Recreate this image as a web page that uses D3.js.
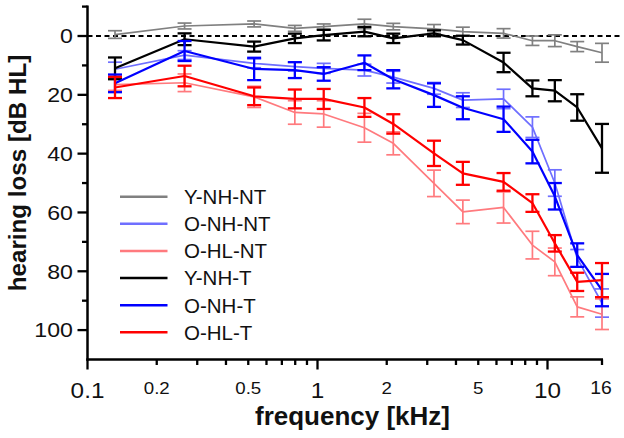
<!DOCTYPE html>
<html>
<head>
<meta charset="utf-8">
<script src="https://cdn.jsdelivr.net/npm/d3@7"></script>
<style>
  html, body { margin: 0; padding: 0; background: #fff; }
  svg { display: block; font-family: "Liberation Sans", Arial, sans-serif; }
</style>
</head>
<body>
<svg id="chart" width="624" height="438"></svg>
<script>
// ---- data ----
const frequencies = [0.125, 0.25, 0.5, 0.75, 1, 1.5, 2, 3, 4, 6, 8, 10, 12.5, 16];
const seriesNames = ["Y-NH-NT", "O-NH-NT", "O-HL-NT", "Y-NH-T", "O-NH-T", "O-HL-T"];
const seriesColors = ["#808080", "#6f6fff", "#ff7a7e", "#000000", "#0000ff", "#ff0000"];

const yNHNT      = [-0.5, -3.4, -4.1, -2.6, -3.2, -4.1, -3.2, -2.4, -1.5, -0.9, 1.6, 1.6, 3.6, 5.7];
const yNHNTerr   = [1.3, 1.0, 1.0, 1.0, 0.9, 1.6, 1.1, 1.5, 1.5, 1.6, 1.6, 2.0, 1.7, 3.2];
const oNHNT      = [11.3, 6.5, 9.3, 10.4, 11.0, 11.6, 14.0, 17.8, 21.8, 21.4, 31.0, 50.0, 75.6, 90.8];
const oNHNTerr   = [2.4, 1.5, 1.5, 1.5, 1.7, 2.0, 2.0, 2.0, 2.5, 3.3, 3.5, 4.5, 3.0, 4.8];
const oHLNT      = [16.5, 15.9, 20.7, 26.0, 26.5, 31.2, 36.5, 50.1, 59.8, 58.3, 71.1, 76.8, 92.1, 94.6];
const oHLNTerr   = [2.0, 3.0, 3.6, 4.0, 4.5, 4.9, 3.9, 4.5, 4.0, 5.3, 4.7, 4.7, 3.4, 5.2];
const yNHT       = [11.0, 1.1, 3.6, 0.8, -0.3, -1.5, 0.8, -0.9, 1.4, 9.0, 17.8, 18.6, 24.3, 38.2];
const yNHTerr    = [3.7, 2.0, 1.7, 1.6, 1.8, 1.6, 1.6, 1.0, 1.5, 3.3, 2.7, 3.6, 4.5, 8.3];
const oNHT       = [16.1, 5.1, 11.2, 11.6, 12.9, 9.1, 14.7, 20.1, 24.4, 28.3, 39.3, 54.5, 74.5, 86.4];
const oNHTerr    = [3.0, 3.4, 3.8, 2.7, 2.3, 2.5, 3.1, 4.0, 3.9, 4.3, 4.0, 4.5, 4.0, 5.5];
const oHLT       = [17.5, 13.6, 20.5, 21.4, 21.4, 24.3, 29.9, 39.9, 46.7, 49.6, 56.8, 70.5, 83.6, 83.0];
const oHLTerr    = [3.6, 3.5, 3.0, 3.2, 3.4, 3.2, 3.3, 4.3, 3.9, 3.0, 3.0, 2.8, 3.1, 5.8];

const seriesValues = [yNHNT, oNHNT, oHLNT, yNHT, oNHT, oHLT];
const seriesErrors = [yNHNTerr, oNHNTerr, oHLNTerr, yNHTerr, oNHTerr, oHLTerr];

const yMajorTicks = [0, 20, 40, 60, 80, 100];
const yMinorTicks = [-10, 10, 30, 50, 70, 90];
const xBigTicks = [0.1, 1, 10];
const xSmallLabelTicks = [0.2, 0.5, 2, 5];
const xMinorTicks = [0.3, 0.4, 0.6, 0.7, 0.8, 0.9, 3, 4, 6, 7, 8, 9];
const xEndTick = 16;
const xLabel = "frequency [kHz]";
const yLabel = "hearing loss [dB HL]";

// ---- layout ----
const svg = d3.select("#chart");
const axisX0 = 87.5, axisBottom = 359.5, axisTop = 6.6;
const y = d3.scaleLinear().domain([-10, 110]).range([axisTop, axisBottom]);
// tick scale and data scale (the figure's data points sit slightly right of the printed ticks)
const xAxisScale = d3.scaleLog().domain([0.1, 10]).range([axisX0, 547.5]);
const x = d3.scaleLog().domain([0.125, 16]).range([115, 602]);
const axisX1 = x(xEndTick);

const axisColor = "#000";

function stretchedText(px, py, txt, size, sx, anchor, dy) {
  const g = svg.append("g").attr("transform", `translate(${px},${py}) scale(${sx},1)`);
  const t = g.append("text").attr("x", 0).attr("y", 0)
    .attr("text-anchor", anchor).attr("font-size", size).attr("fill", "#111").text(txt);
  if (dy) t.attr("dy", dy);
  return t;
}

// dashed zero line
svg.append("line")
  .attr("x1", axisX0).attr("x2", 622)
  .attr("y1", y(0)).attr("y2", y(0))
  .attr("stroke", "#000").attr("stroke-width", 1.8)
  .attr("stroke-dasharray", "5,3.5");

// series
const lineGen = d3.line().x(d => x(d[0])).y(d => y(d[1]));
seriesNames.forEach((name, si) => {
  const thick = si >= 3;
  const color = seriesColors[si];
  const pts = frequencies.map((f, i) => [f, seriesValues[si][i], seriesErrors[si][i]]);
  const g = svg.append("g");
  g.append("path")
    .attr("d", lineGen(pts))
    .attr("fill", "none")
    .attr("stroke", color)
    .attr("stroke-width", thick ? 2.2 : 1.7)
    .attr("stroke-linejoin", "round");
  const capHalf = 7;
  const eb = g.selectAll("g.eb").data(pts).enter().append("g")
    .attr("stroke", color).attr("stroke-width", thick ? 2.3 : 1.7);
  eb.append("line")
    .attr("x1", d => x(d[0])).attr("x2", d => x(d[0]))
    .attr("y1", d => y(d[1] - d[2])).attr("y2", d => y(d[1] + d[2]));
  eb.append("line")
    .attr("x1", d => x(d[0]) - capHalf).attr("x2", d => x(d[0]) + capHalf)
    .attr("y1", d => y(d[1] - d[2])).attr("y2", d => y(d[1] - d[2]));
  eb.append("line")
    .attr("x1", d => x(d[0]) - capHalf).attr("x2", d => x(d[0]) + capHalf)
    .attr("y1", d => y(d[1] + d[2])).attr("y2", d => y(d[1] + d[2]));
});

// axes lines
svg.append("line").attr("x1", axisX0).attr("x2", axisX0)
  .attr("y1", axisTop - 1).attr("y2", axisBottom + 1)
  .attr("stroke", axisColor).attr("stroke-width", 2.5);
svg.append("line").attr("x1", axisX0 - 1.2).attr("x2", axisX1 + 1)
  .attr("y1", axisBottom).attr("y2", axisBottom)
  .attr("stroke", axisColor).attr("stroke-width", 2.5);

// y ticks
yMajorTicks.forEach(v => {
  svg.append("line").attr("x1", axisX0 - 10).attr("x2", axisX0)
    .attr("y1", y(v)).attr("y2", y(v)).attr("stroke", axisColor).attr("stroke-width", 2.3);
  stretchedText(73, y(v), v, 20.5, 1.13, "end", "0.36em");
});
yMinorTicks.forEach(v => {
  svg.append("line").attr("x1", axisX0 - 5.5).attr("x2", axisX0)
    .attr("y1", y(v)).attr("y2", y(v)).attr("stroke", axisColor).attr("stroke-width", 2.3);
});

// x ticks
xBigTicks.forEach(v => {
  const px = xAxisScale(v);
  svg.append("line").attr("x1", px).attr("x2", px)
    .attr("y1", axisBottom).attr("y2", axisBottom + 10).attr("stroke", axisColor).attr("stroke-width", 2.3);
  stretchedText(px, 398, v, 22.5, 1.08, "middle");
});
xSmallLabelTicks.forEach(v => {
  const px = xAxisScale(v);
  svg.append("line").attr("x1", px).attr("x2", px)
    .attr("y1", axisBottom).attr("y2", axisBottom + 5.5).attr("stroke", axisColor).attr("stroke-width", 2.3);
  stretchedText(px, 393.8, v, 17, 1.1, "middle");
});
xMinorTicks.forEach(v => {
  const px = xAxisScale(v);
  svg.append("line").attr("x1", px).attr("x2", px)
    .attr("y1", axisBottom).attr("y2", axisBottom + 5.5).attr("stroke", axisColor).attr("stroke-width", 2.3);
});
svg.append("line").attr("x1", axisX1).attr("x2", axisX1)
  .attr("y1", axisBottom).attr("y2", axisBottom + 5.5).attr("stroke", axisColor).attr("stroke-width", 2.3);
stretchedText(axisX1 - 1, 393.5, xEndTick, 19, 1.02, "middle");

// axis titles
svg.append("text").attr("x", 352.5).attr("y", 425).attr("text-anchor", "middle")
  .attr("font-size", 26).attr("font-weight", "bold").attr("fill", "#111").text(xLabel);
svg.append("text")
  .attr("transform", "translate(25.5,173) rotate(-90)")
  .attr("text-anchor", "middle")
  .attr("font-size", 24.2).attr("font-weight", "bold").attr("fill", "#111").text(yLabel);

// legend
const legendY = d3.scaleLinear().domain([0, 5]).range([196.7, 332.3]);
seriesNames.forEach((name, i) => {
  const ly = legendY(i);
  svg.append("line").attr("x1", 120).attr("x2", 167.5)
    .attr("y1", ly).attr("y2", ly)
    .attr("stroke", seriesColors[i]).attr("stroke-width", 2.6);
  svg.append("text").attr("x", 184).attr("y", ly).attr("dy", "0.36em")
    .attr("font-size", 20.5).attr("fill", "#111").text(name);
});
</script>
</body>
</html>
